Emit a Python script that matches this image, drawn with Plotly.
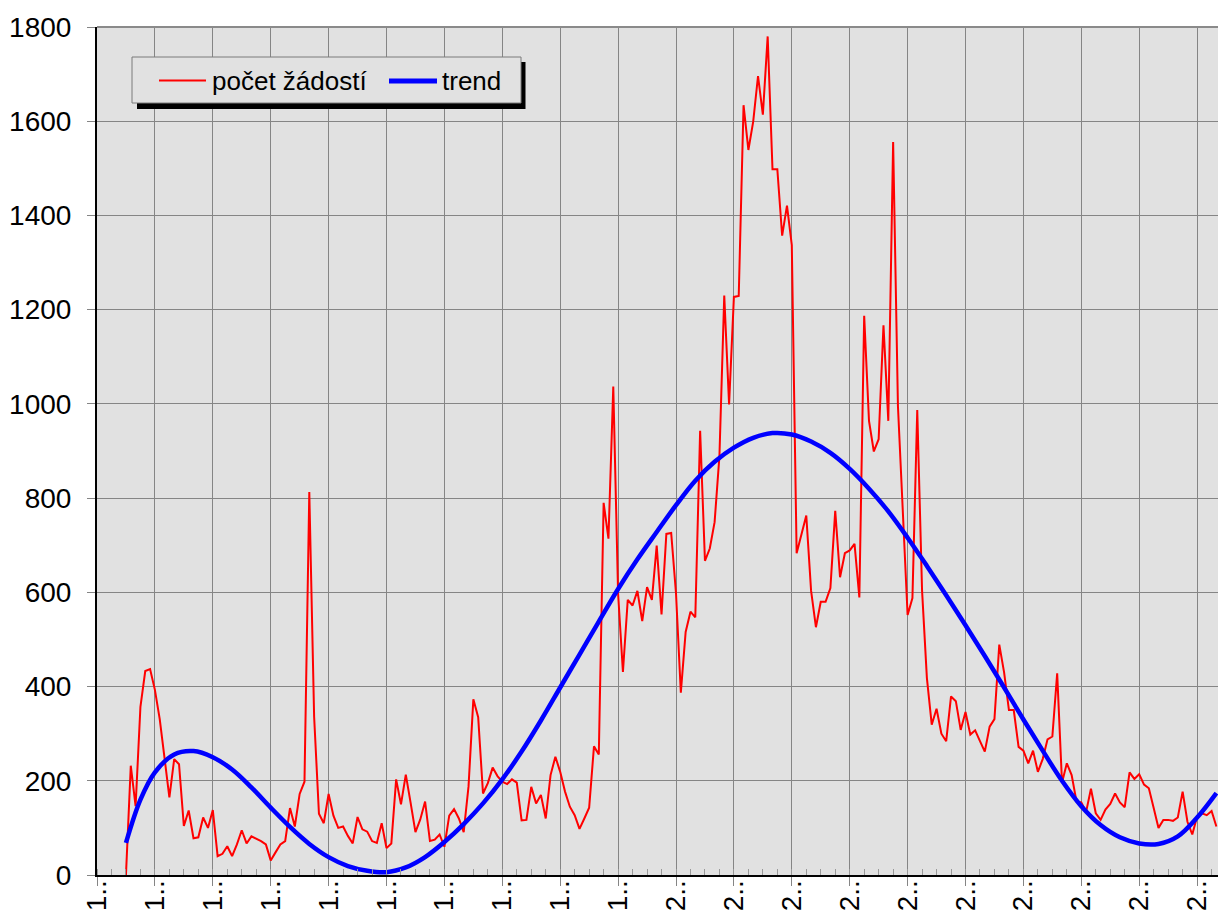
import plotly.graph_objects as go

# ---------------- data ----------------
# category tick labels (every 12th category carries a label)
tick_labels = ["1..", "1..", "1..", "1..", "1..", "1..", "1..", "1..", "1..", "1..",
               "2..", "2..", "2..", "2..", "2..", "2..", "2..", "2..", "2..", "2.."]
label_step = 12
first_index = 6  # first category with a value

# počet žádostí (count of requests) per category, starting at category 6
counts = [
    0, 232, 146, 357, 433, 437, 393, 331, 248, 165,
    246, 235, 104, 137, 78, 80, 122, 100, 138, 40,
    45, 61, 40, 65, 95, 67, 82, 77, 72, 65,
    31, 48, 65, 72, 142, 103, 172, 198, 813, 336,
    130, 110, 172, 126, 100, 103, 83, 67, 123, 97,
    92, 72, 68, 110, 57, 67, 203, 150, 213, 153,
    91, 118, 156, 72, 75, 86, 60, 126, 140, 120,
    91, 188, 373, 335, 173, 195, 228, 210, 198, 193,
    203, 196, 116, 117, 187, 152, 170, 120, 212, 251,
    219, 177, 145, 127, 98, 120, 143, 273, 256, 790,
    714, 1037, 597, 431, 584, 572, 603, 539, 611, 584,
    699, 553, 724, 726, 598, 387, 516, 559, 547, 943,
    667, 693, 749, 889, 1230, 999, 1227, 1229, 1634, 1539,
    1599, 1696, 1614, 1780, 1498, 1498, 1357, 1421, 1337, 683,
    724, 763, 603, 526, 580, 580, 609, 773, 632, 683,
    689, 703, 589, 1187, 964, 899, 925, 1167, 964, 1556,
    995, 780, 552, 588, 987, 603, 418, 319, 353, 300,
    284, 379, 369, 308, 346, 298, 307, 284, 262, 315,
    331, 489, 430, 350, 350, 272, 264, 237, 264, 219,
    246, 288, 294, 428, 196, 237, 212, 156, 154, 134,
    183, 131, 117, 139, 151, 173, 154, 144, 218, 204,
    214, 192, 184, 142, 100, 117, 117, 115, 122, 177,
    113, 86, 124, 131, 127, 136, 103,
]

# trend line, read at selected categories
trend_x = [6, 9, 12, 16, 20, 24, 28, 32, 36, 40, 44, 48, 52, 56, 60, 64, 68, 72,
           76, 80, 84, 88, 92, 96, 100, 104, 108, 112, 116, 120, 124, 128, 132,
           136, 140, 144, 148, 152, 156, 160, 164, 168, 172, 176, 180, 184, 188,
           192, 196, 200, 204, 208, 212, 216, 220, 224, 228, 232]
trend_y = [68, 160, 218, 256, 263, 250, 224, 186, 143, 102, 66, 38, 19, 9, 6, 16, 38, 70,
           108, 152, 203, 262, 328, 398, 468, 538, 607, 670, 728, 785, 837, 877, 907,
           928, 938, 935, 920, 896, 862, 820, 772, 716, 656, 594, 530, 465, 398,
           330, 264, 200, 146, 106, 80, 67, 66, 82, 122, 174]

# ---------------- figure ----------------
FONT = "Liberation Sans, Arial, sans-serif"
W, H = 1218, 916
L, R, T, B = 97, 0, 27, 41
PW, PH = W - L - R, H - T - B   # 1121 x 848

x_idx = list(range(first_index, first_index + len(counts)))
tick_vals = [k * label_step for k in range(len(tick_labels))]

fig = go.Figure()
fig.add_trace(go.Scatter(
    x=x_idx, y=counts, mode="lines", name="počet žádostí",
    line=dict(color="#ff0000", width=2), showlegend=False))
fig.add_trace(go.Scatter(
    x=trend_x, y=trend_y, mode="lines", name="trend",
    line=dict(color="#0000ff", width=4.5, shape="spline", smoothing=1.0),
    showlegend=False))

grid = "#858585"
fig.update_layout(
    width=W, height=H,
    margin=dict(l=L, r=R, t=T, b=B, pad=0),
    paper_bgcolor="white", plot_bgcolor="#e1e1e1",
    font=dict(family=FONT, color="black"),
    xaxis=dict(
        range=[0, PW / 4.825], tickmode="array", tickvals=tick_vals, ticktext=tick_labels,
        tickangle=-90, tickfont=dict(size=28, family=FONT), ticklabelstandoff=-17,
        showgrid=True, gridcolor=grid, gridwidth=1,
        ticks="outside", ticklen=9, tickcolor=grid, tickwidth=1,
        minor=dict(tickmode="linear", tick0=0, dtick=3, ticks="inside",
                   ticklen=6, tickcolor="#999999", showgrid=False),
        showline=True, linecolor="black", linewidth=2, zeroline=False,
        automargin=False, fixedrange=True),
    yaxis=dict(
        range=[0, 1800], tickmode="linear", tick0=0, dtick=200,
        tickfont=dict(size=28, family=FONT), ticklabelstandoff=10,
        showgrid=True, gridcolor=grid, gridwidth=1,
        ticks="outside", ticklen=8, tickcolor=grid,
        showline=True, linecolor="black", linewidth=2, zeroline=False,
        automargin=False, fixedrange=True),
)

# helpers: window pixel -> paper fraction of the plot area
def px_x(p):
    return (p - L) / PW

def px_y(p):
    return (H - B - p) / PH

shapes = [
    # top border of plot area
    dict(type="line", xref="paper", yref="paper", x0=0, x1=1, y0=1, y1=1,
         line=dict(color="#8a8a8a", width=2)),
    # legend shadow
    dict(type="rect", xref="paper", yref="paper",
         x0=px_x(137), x1=px_x(525.5), y0=px_y(109), y1=px_y(62),
         fillcolor="black", line=dict(width=0), layer="above"),
    # legend box
    dict(type="rect", xref="paper", yref="paper",
         x0=px_x(132), x1=px_x(521), y0=px_y(103), y1=px_y(57),
         fillcolor="#e1e1e1", line=dict(color="#7a7a7a", width=1), layer="above"),
    # legend samples
    dict(type="line", xref="paper", yref="paper",
         x0=px_x(159), x1=px_x(206), y0=px_y(80.5), y1=px_y(80.5),
         line=dict(color="#ff0000", width=2), layer="above"),
    dict(type="line", xref="paper", yref="paper",
         x0=px_x(389), x1=px_x(437), y0=px_y(81), y1=px_y(81),
         line=dict(color="#0000ff", width=5), layer="above"),
]
annotations = [
    dict(text="počet žádostí", xref="paper", yref="paper", x=px_x(210), y=px_y(81),
         xanchor="left", yanchor="middle", showarrow=False,
         font=dict(size=26, family=FONT, color="black")),
    dict(text="trend", xref="paper", yref="paper", x=px_x(440), y=px_y(81),
         xanchor="left", yanchor="middle", showarrow=False,
         font=dict(size=26, family=FONT, color="black")),
]
fig.update_layout(shapes=shapes, annotations=annotations)

fig.write_html(
    "out.html",
    config={"displayModeBar": False},
    post_script="document.body.style.margin='0';document.body.style.overflow='hidden';",
)
